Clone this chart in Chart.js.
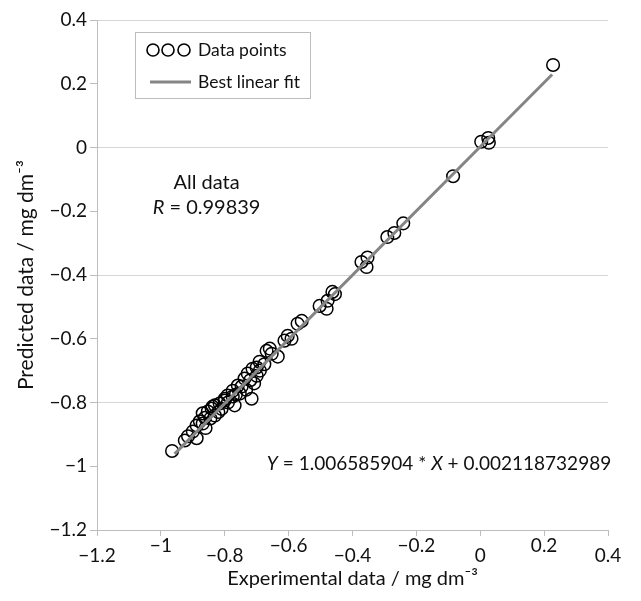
<!DOCTYPE html>
<html>
<head>
<meta charset="utf-8">
<script src="https://cdn.jsdelivr.net/npm/chart.js@4.4.1/dist/chart.umd.min.js"></script>
<style>
  body { margin: 0; background: #fff; }
  #chart { display: block; }
</style>
</head>
<body>
<canvas id="chart" width="641" height="601"></canvas>
<script>
// values
const expData = [
  -0.965, -0.925, -0.915, -0.888, -0.900, -0.888, -0.878, -0.869, -0.862, -0.869,
  -0.853, -0.841, -0.831, -0.831, -0.845, -0.838, -0.820, -0.816, -0.800, -0.800,
  -0.791, -0.775, -0.769, -0.775, -0.759, -0.753, -0.747, -0.738, -0.728, -0.716,
  -0.700, -0.713, -0.720, -0.708, -0.691, -0.690, -0.669, -0.653, -0.634, -0.676,
  -0.733, -0.810, -0.860, -0.790, -0.765, -0.700, -0.659, -0.613, -0.603, -0.591,
  -0.572, -0.559, -0.503, -0.481, -0.478, -0.463, -0.455, -0.372, -0.356, -0.353,
  -0.291, -0.269, -0.241, -0.085, 0.003, 0.025, 0.027, 0.228
];
const predData = [
  -0.952, -0.919, -0.906, -0.912, -0.891, -0.872, -0.859, -0.866, -0.848, -0.834,
  -0.828, -0.819, -0.841, -0.809, -0.850, -0.813, -0.830, -0.803, -0.794, -0.788,
  -0.778, -0.781, -0.809, -0.763, -0.747, -0.772, -0.750, -0.725, -0.709, -0.788,
  -0.716, -0.694, -0.730, -0.740, -0.672, -0.700, -0.638, -0.647, -0.656, -0.680,
  -0.760, -0.820, -0.880, -0.800, -0.775, -0.690, -0.631, -0.606, -0.591, -0.600,
  -0.553, -0.544, -0.497, -0.506, -0.481, -0.453, -0.460, -0.359, -0.375, -0.345,
  -0.281, -0.268, -0.238, -0.090, 0.018, 0.030, 0.015, 0.259
];
const fitX = [-0.957, 0.225];
const fitY = [-0.961, 0.229];
const xTicks = [-1.2, -1, -0.8, -0.6, -0.4, -0.2, 0, 0.2, 0.4];
const yTicks = [-1.2, -1, -0.8, -0.6, -0.4, -0.2, 0, 0.2, 0.4];
const seriesNames = ['Data points', 'Best linear fit'];
const subsetName = 'All data';
const rValue = '0.99839';
const slope = '1.006585904';
const intercept = '0.002118732989';

const FONT = 'Lato, "Open Sans", sans-serif';
const INK = '#111';
const AXIS = '#bdbdbd';
const FIT = '#858585';

const fmt = v => String(Math.round(v * 10) / 10).replace('-', '\u2212');

// write text runs, some of them italic
function drawRuns(ctx, runs, x, y, align, size) {
  const font = it => (it ? 'italic ' : '') + size + 'px ' + FONT;
  let w = 0;
  runs.forEach(r => { ctx.font = font(r.i); w += ctx.measureText(r.t).width; });
  let cx = align === 'center' ? x - w / 2 : align === 'right' ? x - w : x;
  ctx.textAlign = 'left';
  ctx.textBaseline = 'middle';
  runs.forEach(r => {
    ctx.font = font(r.i);
    ctx.fillText(r.t, cx, y);
    cx += ctx.measureText(r.t).width;
  });
}

const notes = {
  id: 'notes',
  afterDraw(chart) {
    const { ctx, chartArea: a, scales: { x, y } } = chart;
    ctx.save();
    ctx.fillStyle = INK;

    // legend box
    const lx = a.left + 38, ly = a.top + 12, lw = 175, lh = 66;
    ctx.strokeStyle = AXIS;
    ctx.lineWidth = 1;
    ctx.strokeRect(lx + 0.5, ly + 0.5, lw, lh);
    const r1 = ly + 18, r2 = ly + 50;
    ctx.strokeStyle = '#000';
    ctx.lineWidth = 1.6;
    [18, 33, 49].forEach(dx => {
      ctx.beginPath();
      ctx.arc(lx + dx, r1, 6, 0, Math.PI * 2);
      ctx.stroke();
    });
    ctx.strokeStyle = FIT;
    ctx.lineWidth = 3;
    ctx.beginPath();
    ctx.moveTo(lx + 15, r2);
    ctx.lineTo(lx + 56, r2);
    ctx.stroke();
    drawRuns(ctx, [{ t: seriesNames[0] }], lx + 63, r1, 'left', 17.5);
    drawRuns(ctx, [{ t: seriesNames[1] }], lx + 63, r2, 'left', 17.5);

    // subset label and R
    const ax = x.getPixelForValue(-0.857);
    drawRuns(ctx, [{ t: subsetName }], ax, y.getPixelForValue(-0.109), 'center', 20);
    drawRuns(ctx, [{ t: 'R', i: true }, { t: ' = ' + rValue }], ax, y.getPixelForValue(-0.187), 'center', 20);

    // fit equation
    drawRuns(ctx, [
      { t: 'Y', i: true }, { t: ' = ' + slope + ' * ' },
      { t: 'X', i: true }, { t: ' + ' + intercept }
    ], x.getPixelForValue(0.41), y.getPixelForValue(-0.994), 'right', 19);
    ctx.restore();
  }
};

new Chart(document.getElementById('chart'), {
  type: 'scatter',
  data: {
    datasets: [
      {
        type: 'line',
        label: seriesNames[1],
        data: fitX.map((v, i) => ({ x: v, y: fitY[i] })),
        borderColor: FIT,
        borderWidth: 3,
        pointRadius: 0,
        fill: false
      },
      {
        label: seriesNames[0],
        data: expData.map((v, i) => ({ x: v, y: predData[i] })),
        pointRadius: 6.3,
        borderWidth: 1.5,
        borderColor: '#000',
        backgroundColor: 'rgba(0,0,0,0)'
      }
    ]
  },
  options: {
    responsive: false,
    animation: false,
    layout: { padding: { top: 20, right: 33, left: 0, bottom: 0 } },
    plugins: { legend: { display: false }, tooltip: { enabled: false } },
    scales: {
      x: {
        type: 'linear',
        min: -1.2,
        max: 0.4,
        afterBuildTicks: s => { s.ticks = xTicks.map(v => ({ value: v })); },
        afterFit: s => { s.height = 71; },
        border: { color: AXIS, width: 1 },
        grid: { drawOnChartArea: false, tickColor: AXIS, tickLength: 6 },
        ticks: {
          color: INK,
          padding: 5,
          maxRotation: 0,
          font: { family: FONT, size: 19, lineHeight: 0.52 },
          // every other label sits a little lower
          callback: v => (Math.abs(Math.round(v * 5)) % 2 === 1 ? [fmt(v)] : ['', fmt(v)])
        },
        title: {
          display: true,
          text: 'Experimental data / mg dm\u207B\u00B3',
          color: INK,
          font: { family: FONT, size: 20 },
          padding: { top: 0, bottom: 10 }
        }
      },
      y: {
        type: 'linear',
        min: -1.2,
        max: 0.4,
        afterBuildTicks: s => { s.ticks = yTicks.map(v => ({ value: v })); },
        afterFit: s => { s.width = 97; },
        border: { color: AXIS, width: 1 },
        grid: {
          color: c => (Math.abs(Math.round(c.tick.value * 5)) % 2 === 0 ? '#d6d6d6' : 'rgba(0,0,0,0)'),
          tickColor: AXIS,
          tickLength: 7
        },
        ticks: {
          color: INK,
          padding: 3,
          font: { family: FONT, size: 19 },
          callback: v => fmt(v)
        },
        title: {
          display: true,
          text: 'Predicted data / mg dm\u207B\u00B3',
          color: INK,
          font: { family: FONT, size: 21 },
          padding: { top: 14, bottom: 0 }
        }
      }
    }
  },
  plugins: [notes]
});
</script>
</body>
</html>
